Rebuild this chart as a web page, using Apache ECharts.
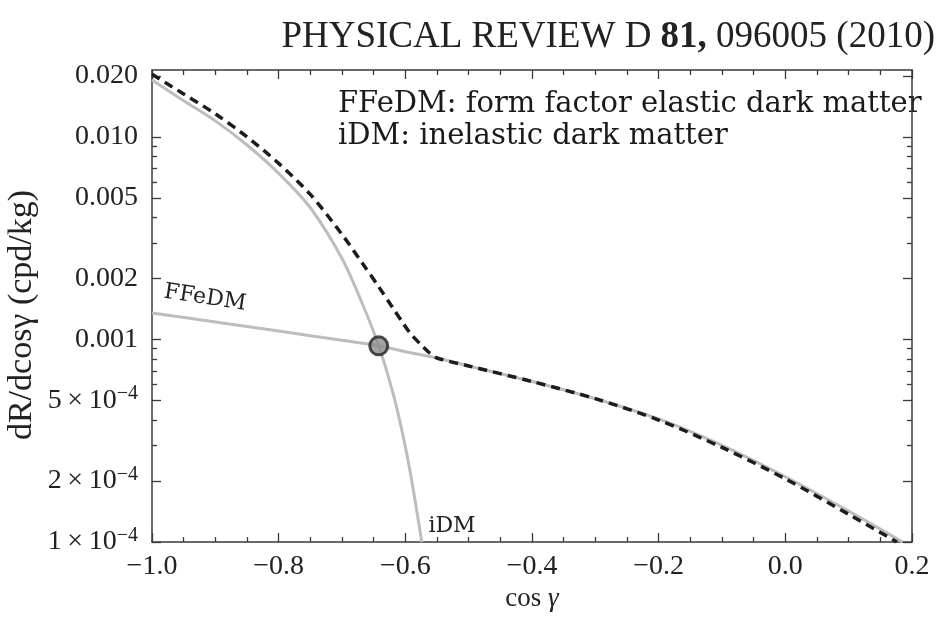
<!DOCTYPE html>
<html>
<head>
<meta charset="utf-8">
<script src="https://cdn.jsdelivr.net/npm/echarts@6/dist/echarts.min.js"></script>
<style>
  html, body { margin: 0; padding: 0; background: #ffffff; }
  #chart { width: 942px; height: 620px; }
</style>
</head>
<body>
<div id="chart"></div>
<script>
// Inelastic dark matter rate versus cos(gamma)
const idmCurve = [
  [-1.0, 0.0191], [-0.95, 0.0151], [-0.9, 0.0120], [-0.85, 0.00912],
  [-0.8, 0.00661], [-0.75, 0.00447], [-0.7, 0.00251], [-0.667, 0.00148],
  [-0.642, 0.00093], [-0.619, 0.000535], [-0.604, 0.000339],
  [-0.592, 0.000219], [-0.574, 0.000100]
];

// Form factor elastic dark matter rate
const ffedmCurve = [
  [-1.0, 0.00135], [-0.9, 0.00122], [-0.8, 0.00110], [-0.7, 0.00099],
  [-0.642, 0.00093], [-0.6, 0.00087], [-0.55, 0.00081], [-0.5, 0.00074],
  [-0.4, 0.00062], [-0.3, 0.00051], [-0.2, 0.000405], [-0.1, 0.000300],
  [0.0, 0.000210], [0.1, 0.000142], [0.185, 0.000100]
];

// Combined rate (dashed)
const totalCurve = [
  [-1.0, 0.0204], [-0.95, 0.0163], [-0.9, 0.0130], [-0.85, 0.0100],
  [-0.8, 0.0074], [-0.75, 0.0052], [-0.7, 0.0033], [-0.667, 0.00236],
  [-0.642, 0.00182], [-0.619, 0.00142], [-0.604, 0.00121], [-0.592, 0.00107],
  [-0.575, 0.00094], [-0.562, 0.00086], [-0.55, 0.00081], [-0.5, 0.00074],
  [-0.4, 0.00062], [-0.3, 0.00051], [-0.2, 0.000400], [-0.1, 0.000293],
  [0.0, 0.000205], [0.1, 0.000137], [0.176, 0.000100]
];

// Point where the two rates are equal
const crossingPoint = [[-0.642, 0.00093]];

// Axis ticks and labels
const xMajorTicks = [-1.0, -0.8, -0.6, -0.4, -0.2, 0.0, 0.2];
const xTickLabels = ['\u22121.0', '\u22120.8', '\u22120.6', '\u22120.4', '\u22120.2', '0.0', '0.2'];
const xMinorTicks = [-0.95, -0.9, -0.85, -0.75, -0.7, -0.65, -0.55, -0.5, -0.45,
  -0.35, -0.3, -0.25, -0.15, -0.1, -0.05, 0.05, 0.1, 0.15];
const yMajorTicks = [0.02, 0.01, 0.005, 0.002, 0.001, 0.0005, 0.0002, 0.0001];
const yTickLabels = ['0.020', '0.010', '0.005', '0.002', '0.001',
  '{b|5\u2009\u00d7\u200910}{s|\u22124}', '{b|2\u2009\u00d7\u200910}{s|\u22124}', '{b|1\u2009\u00d7\u200910}{s|\u22124}'];
const yMinorTicks = [0.009, 0.008, 0.007, 0.006, 0.004, 0.003,
  0.0009, 0.0008, 0.0007, 0.0006, 0.0004, 0.0003];

const Y_MIN = 0.0001, Y_MAX = 0.0214;
const X_MIN = -1.0, X_MAX = 0.2;

const serif = 'Liberation Serif';
const textSerif = 'DejaVu Serif';
const frameColor = '#3a3a3a';
const greyLine = '#bdbdbd';

function labelFor(ticks, labels, v) {
  for (let i = 0; i < ticks.length; i++) {
    if (Math.abs(ticks[i] - v) < Math.abs(ticks[i]) * 1e-6 + 1e-9) return labels[i];
  }
  return '';
}

function xAxisDef(position, major, showLabels) {
  return {
    type: 'value', position: position, min: X_MIN, max: X_MAX,
    axisLine: { show: major, onZero: false, lineStyle: { color: frameColor, width: 1.5 } },
    axisTick: {
      show: true, inside: true, length: major ? 9 : 5,
      customValues: major ? xMajorTicks : xMinorTicks,
      lineStyle: { color: frameColor, width: 1.3 }
    },
    axisLabel: {
      show: showLabels, customValues: xMajorTicks, margin: 11,
      fontFamily: serif, fontSize: 28, color: '#222',
      formatter: v => labelFor(xMajorTicks, xTickLabels, v)
    },
    splitLine: { show: false },
    name: showLabels ? '{n|cos }{g|\u03b3}' : '', nameLocation: 'middle', nameGap: 40,
    nameTextStyle: {
      fontFamily: serif, fontSize: 27, color: '#222',
      rich: {
        n: { fontFamily: serif, fontSize: 27, color: '#222' },
        g: { fontFamily: serif, fontSize: 27, color: '#222', fontStyle: 'italic' }
      }
    }
  };
}

function yAxisDef(position, major, showLabels) {
  return {
    type: 'log', logBase: 10, position: position, min: Y_MIN, max: Y_MAX,
    axisLine: { show: major, onZero: false, lineStyle: { color: frameColor, width: 1.5 } },
    axisTick: {
      show: true, inside: true, length: major ? 9 : 5,
      customValues: major ? yMajorTicks : yMinorTicks,
      lineStyle: { color: frameColor, width: 1.3 }
    },
    axisLabel: {
      show: showLabels, customValues: yMajorTicks, margin: 14,
      fontFamily: serif, fontSize: 28, color: '#222',
      formatter: v => labelFor(yMajorTicks, yTickLabels, v),
      rich: {
        b: { fontFamily: serif, fontSize: 28, color: '#222' },
        s: { fontFamily: serif, fontSize: 20, color: '#222', verticalAlign: 'bottom', padding: [0, 0, 13, 0] }
      }
    },
    splitLine: { show: false }
  };
}

const chart = echarts.init(document.getElementById('chart'), null, { renderer: 'canvas' });

chart.setOption({
  backgroundColor: '#ffffff',
  animation: false,
  grid: { left: 152, right: 30, top: 70, bottom: 78, containLabel: false },
  xAxis: [
    xAxisDef('bottom', true, true),
    xAxisDef('bottom', false, false),
    xAxisDef('top', true, false),
    xAxisDef('top', false, false)
  ],
  yAxis: [
    yAxisDef('left', true, true),
    yAxisDef('left', false, false),
    yAxisDef('right', true, false),
    yAxisDef('right', false, false)
  ],
  series: [
    {
      name: 'iDM', type: 'line', data: idmCurve, smooth: 0.3, showSymbol: false,
      lineStyle: { color: greyLine, width: 3 }, z: 2, clip: true
    },
    {
      name: 'FFeDM', type: 'line', data: ffedmCurve, smooth: 0.3, showSymbol: false,
      lineStyle: { color: greyLine, width: 3 }, z: 2, clip: true
    },
    {
      name: 'total', type: 'line', data: totalCurve, smooth: 0.3, showSymbol: false,
      lineStyle: { color: '#1c1c1c', width: 3.5, type: [9, 6] }, z: 3, clip: true
    },
    {
      name: 'crossing', type: 'scatter', data: crossingPoint, symbol: 'circle', symbolSize: 18,
      itemStyle: { color: '#8c8c8c', borderColor: '#222', borderWidth: 3 }, z: 4
    }
  ],
  graphic: [
    {
      type: 'text', right: 7, top: 19,
      style: {
        text: '{n|PHYSICAL REVIEW D }{bd|81,}{n| 096005 (2010)}',
        rich: {
          n: { fontFamily: serif, fontSize: 37, fill: '#222' },
          bd: { fontFamily: serif, fontSize: 37, fontWeight: 'bold', fill: '#222' }
        }
      }
    },
    {
      type: 'text', x: 22, y: 315, rotation: Math.PI / 2,
      style: { text: 'dR/dcos\u03b3 (cpd/kg)', fontFamily: serif, fontSize: 34, fill: '#222',
        textAlign: 'center', textVerticalAlign: 'middle' }
    },
    {
      type: 'text', x: 338, y: 104,
      style: { text: 'FFeDM: form factor elastic dark matter', fontFamily: textSerif, fontSize: 29,
        fill: '#1a1a1a', textVerticalAlign: 'middle' }
    },
    {
      type: 'text', x: 338, y: 136,
      style: { text: 'iDM: inelastic dark matter', fontFamily: textSerif, fontSize: 29,
        fill: '#1a1a1a', textVerticalAlign: 'middle' }
    },
    {
      type: 'text', x: 205, y: 298, rotation: -0.15,
      style: { text: 'FFeDM', fontFamily: textSerif, fontSize: 22, fill: '#222',
        textAlign: 'center', textVerticalAlign: 'middle' }
    },
    {
      type: 'text', x: 452, y: 526,
      style: { text: 'iDM', fontFamily: textSerif, fontSize: 22, fill: '#222',
        textAlign: 'center', textVerticalAlign: 'middle' }
    }
  ]
});
</script>
</body>
</html>
